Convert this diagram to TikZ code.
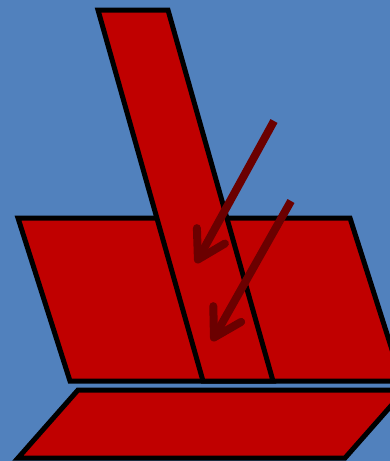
\documentclass[tikz,border=0pt]{standalone}
\usetikzlibrary{arrows.meta}
\definecolor{bg}{HTML}{5181BD}
\definecolor{shapered}{HTML}{C00000}
\definecolor{arrowred}{HTML}{6B0000}
\begin{document}
\begin{tikzpicture}[x=1pt,y=-1pt,
  panel/.style={fill=shapered,draw=black,line width=5pt,line join=miter},
  force/.style={draw=arrowred,line width=8pt,line cap=butt,
    -{Straight Barb[length=27pt,width=32pt,round]}}]
\useasboundingbox (0,0) rectangle (390,461);
\clip (0,0) rectangle (390,461);
\fill[bg] (0,0) rectangle (390,461);
% middle parallelogram
\draw[panel] (18,218) -- (350,218) -- (402,381) -- (70,381) -- cycle;
% tall strip
\draw[panel] (98,10) -- (168,10) -- (273,381) -- (203,381) -- cycle;
% bottom parallelogram
\draw[panel] (18,458) -- (78,390) -- (405,390) -- (345,458) -- cycle;
% arrows
\coordinate (a1s) at (274,121);
\coordinate (a1e) at (196,263);
\coordinate (a2s) at (291,201);
\coordinate (a2e) at (212,341);
\draw[force] (a1s) -- (a1e);
\draw[force] (a2s) -- (a2e);
\end{tikzpicture}
\end{document}
